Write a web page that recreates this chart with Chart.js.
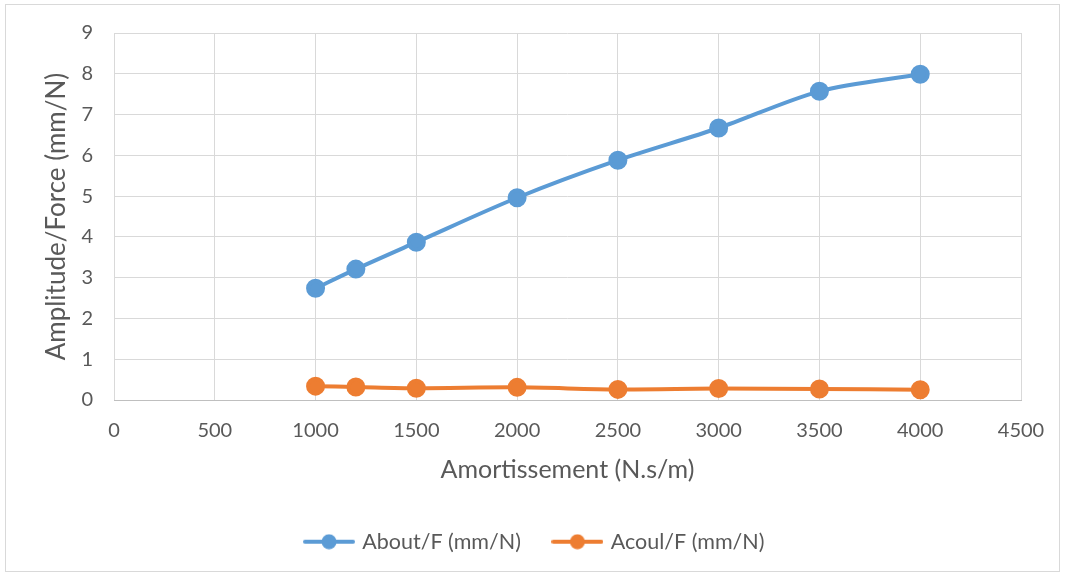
<!DOCTYPE html>
<html>
<head>
<meta charset="utf-8">
<script src="https://cdn.jsdelivr.net/npm/chart.js@4.4.0/dist/chart.umd.min.js"></script>
<style>
html,body{margin:0;padding:0;background:#fff;}
#wrap{width:1065px;height:577px;position:relative;}
</style>
</head>
<body>
<div id="wrap"><canvas id="c" width="1065" height="577"></canvas></div>
<script>
const amortissement = [1000, 1200, 1500, 2000, 2500, 3000, 3500, 4000];
const aboutF = [2.74, 3.21, 3.87, 4.96, 5.88, 6.67, 7.57, 7.99];
const acoulF = [0.34, 0.32, 0.29, 0.31, 0.26, 0.28, 0.27, 0.25];
const seriesNames = ['About/F (mm/N)', 'Acoul/F (mm/N)'];
const xTitle = 'Amortissement (N.s/m)';
const yTitle = 'Amplitude/Force (mm/N)';
const blue = '#5B9BD5', orange = '#ED7D31';
const FONT = 'Lato, "Open Sans", sans-serif';

function legendIcon(color) {
  const cv = document.createElement('canvas');
  cv.width = 52; cv.height = 16;
  const g = cv.getContext('2d');
  g.strokeStyle = color; g.lineWidth = 4; g.lineCap = 'round';
  g.beginPath(); g.moveTo(2, 8); g.lineTo(50, 8); g.stroke();
  g.fillStyle = color; g.beginPath(); g.arc(26, 8, 7.5, 0, Math.PI * 2); g.fill();
  return cv;
}
const icons = [legendIcon(blue), legendIcon(orange)];

const borderPlugin = {
  id: 'outerBorder',
  beforeDraw(chart) {
    const ctx = chart.ctx;
    ctx.save();
    ctx.fillStyle = '#fff';
    ctx.fillRect(0, 0, chart.width, chart.height);
    ctx.strokeStyle = '#d9d9d9';
    ctx.lineWidth = 1;
    ctx.strokeRect(5.5, 4.5, 1054, 567);
    ctx.restore();
  }
};
const legendFit = {
  id: 'legendFit',
  beforeInit(chart) {
    const orig = chart.legend.fit;
    chart.legend.fit = function () { orig.call(this); this.height = 56; };
  },
  afterLayout(chart) {
    chart.legend.left += 25;
    chart.legend.right += 25;
  }
};

new Chart(document.getElementById('c'), {
  type: 'line',
  data: {
    datasets: [
      { label: seriesNames[0], data: amortissement.map((x, i) => ({x, y: aboutF[i]})),
        borderColor: blue, backgroundColor: blue, borderWidth: 4, pointRadius: 7.5,
        pointHoverRadius: 7.5, tension: 0.3 },
      { label: seriesNames[1], data: amortissement.map((x, i) => ({x, y: acoulF[i]})),
        borderColor: orange, backgroundColor: orange, borderWidth: 4, pointRadius: 7.5,
        pointHoverRadius: 7.5, tension: 0.3 }
    ]
  },
  options: {
    responsive: false,
    animation: false,
    layout: { padding: { left: 0, right: 44, top: 33, bottom: 24 } },
    plugins: {
      tooltip: { enabled: false },
      legend: {
        position: 'bottom',
        labels: {
          usePointStyle: true,
          pointStyleWidth: 45,
          padding: 34,
          color: '#595959',
          font: { family: FONT, size: 21.5 },
          generateLabels(chart) {
            return chart.data.datasets.map((ds, i) => ({
              text: ds.label, pointStyle: icons[i], fillStyle: ds.borderColor,
              strokeStyle: ds.borderColor, lineWidth: 0, hidden: false, datasetIndex: i, fontColor: '#595959'
            }));
          }
        }
      }
    },
    scales: {
      x: {
        type: 'linear', min: 0, max: 4500,
        ticks: { stepSize: 500, color: '#595959', font: { family: FONT, size: 20 }, padding: 19,
                 format: { useGrouping: false } },
        grid: { color: '#d9d9d9', lineWidth: 1, drawTicks: false },
        border: { display: true, color: '#bfbfbf', width: 1 },
        title: { display: true, text: xTitle, color: '#595959', font: { family: FONT, size: 25 }, padding: { top: 0, bottom: 12 } },
        afterFit(s) { s.height = 97; }
      },
      y: {
        min: 0, max: 9,
        ticks: { stepSize: 1, color: '#595959', font: { family: FONT, size: 20 }, padding: 21 },
        grid: { color: '#d9d9d9', lineWidth: 1, drawTicks: false },
        border: { display: false },
        title: { display: true, text: yTitle, color: '#595959', font: { family: FONT, size: 26 }, padding: { top: 41, bottom: 0 } },
        afterFit(s) { s.width = 114; }
      }
    }
  },
  plugins: [borderPlugin, legendFit]
});
</script>
</body>
</html>
